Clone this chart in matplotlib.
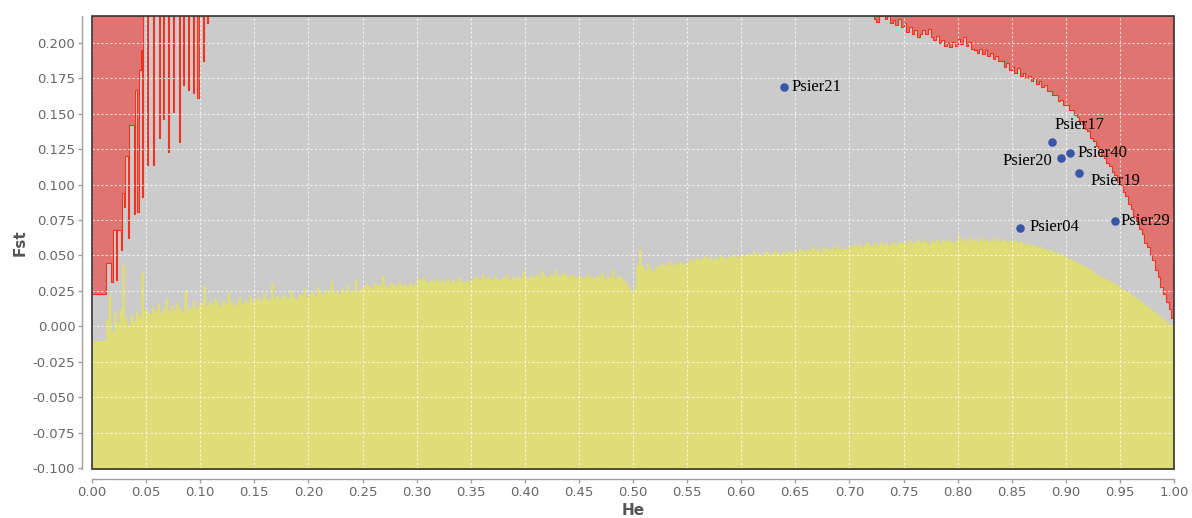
import numpy as np
import matplotlib
matplotlib.use("Agg")
import matplotlib.pyplot as plt
from matplotlib.patches import Rectangle

# lower (neutral) quantile, one value per He bin of width 0.0025
low_step = 0.0025
low_fst = [
    -0.010, -0.010, -0.010, -0.010, -0.010, 0.005, 0.022, -0.004, 0.010, 0.003, 0.012, 0.044, 0.006, 0.001, 0.009, 0.004, 0.011, 0.007, 0.038, 0.012,
    0.012, 0.009, 0.014, 0.011, 0.016, 0.010, 0.013, 0.020, 0.011, 0.015, 0.012, 0.017, 0.013, 0.010, 0.026, 0.014, 0.012, 0.018, 0.013, 0.015,
    0.017, 0.029, 0.015, 0.018, 0.016, 0.020, 0.017, 0.014, 0.019, 0.016, 0.024, 0.018, 0.015, 0.017, 0.021, 0.016, 0.019, 0.017, 0.022, 0.018,
    0.019, 0.021, 0.018, 0.024, 0.020, 0.019, 0.031, 0.020, 0.022, 0.019, 0.023, 0.021, 0.020, 0.026, 0.021, 0.019, 0.023, 0.022, 0.027, 0.021,
    0.023, 0.025, 0.022, 0.028, 0.024, 0.023, 0.026, 0.025, 0.032, 0.024, 0.026, 0.023, 0.027, 0.025, 0.029, 0.024, 0.026, 0.033, 0.025, 0.027,
    0.028, 0.030, 0.029, 0.027, 0.031, 0.029, 0.030, 0.036, 0.029, 0.028, 0.031, 0.030, 0.028, 0.032, 0.029, 0.030, 0.028, 0.031, 0.029, 0.030,
    0.034, 0.033, 0.035, 0.032, 0.031, 0.033, 0.032, 0.034, 0.031, 0.033, 0.032, 0.034, 0.031, 0.033, 0.032, 0.035, 0.032, 0.031, 0.033, 0.032,
    0.033, 0.036, 0.034, 0.033, 0.037, 0.034, 0.035, 0.033, 0.036, 0.034, 0.033, 0.035, 0.034, 0.037, 0.033, 0.035, 0.034, 0.036, 0.034, 0.039,
    0.035, 0.034, 0.036, 0.035, 0.037, 0.035, 0.039, 0.036, 0.035, 0.037, 0.036, 0.040, 0.035, 0.036, 0.038, 0.036, 0.035, 0.037, 0.036, 0.035,
    0.036, 0.034, 0.035, 0.037, 0.035, 0.034, 0.036, 0.035, 0.038, 0.034, 0.036, 0.035, 0.040, 0.034, 0.036, 0.035, 0.033, 0.031, 0.028, 0.024,
    0.027, 0.044, 0.055, 0.043, 0.040, 0.045, 0.041, 0.039, 0.043, 0.042, 0.045, 0.043, 0.044, 0.046, 0.043, 0.045, 0.044, 0.046, 0.044, 0.045,
    0.046, 0.048, 0.047, 0.049, 0.047, 0.048, 0.050, 0.048, 0.049, 0.047, 0.049, 0.048, 0.050, 0.049, 0.048, 0.050, 0.049, 0.051, 0.049, 0.050,
    0.051, 0.050, 0.052, 0.051, 0.053, 0.051, 0.052, 0.050, 0.052, 0.053, 0.051, 0.052, 0.054, 0.052, 0.051, 0.053, 0.052, 0.054, 0.052, 0.053,
    0.053, 0.055, 0.054, 0.053, 0.055, 0.054, 0.056, 0.054, 0.055, 0.053, 0.056, 0.055, 0.054, 0.056, 0.055, 0.057, 0.055, 0.056, 0.055, 0.057,
    0.056, 0.058, 0.057, 0.059, 0.056, 0.058, 0.060, 0.057, 0.058, 0.059, 0.057, 0.060, 0.058, 0.059, 0.057, 0.060, 0.059, 0.058, 0.060, 0.059,
    0.060, 0.058, 0.061, 0.059, 0.060, 0.062, 0.059, 0.061, 0.060, 0.058, 0.061, 0.060, 0.062, 0.059, 0.061, 0.060, 0.062, 0.060, 0.059, 0.061,
    0.065, 0.061, 0.062, 0.060, 0.063, 0.061, 0.062, 0.060, 0.063, 0.061, 0.062, 0.060, 0.061, 0.063, 0.061, 0.060, 0.062, 0.061, 0.060, 0.061,
    0.060, 0.061, 0.059, 0.060, 0.058, 0.059, 0.058, 0.057, 0.058, 0.056, 0.057, 0.055, 0.055, 0.054, 0.054, 0.053, 0.052, 0.052, 0.051, 0.050,
    0.049, 0.048, 0.047, 0.046, 0.045, 0.044, 0.043, 0.042, 0.041, 0.040, 0.038, 0.037, 0.036, 0.035, 0.034, 0.033, 0.032, 0.031, 0.030, 0.029,
    0.027, 0.026, 0.025, 0.024, 0.022, 0.021, 0.020, 0.018, 0.017, 0.015, 0.014, 0.012, 0.011, 0.009, 0.008, 0.006, 0.005, 0.003, 0.002, 0.001,
]

# upper (balancing) quantile, irregular breakpoints; 0.300 = above the plotted range
up_he = [
    0.0000, 0.0130, 0.0180, 0.0190, 0.0225, 0.0235, 0.0265, 0.0275, 0.0295, 0.0305,
    0.0335, 0.0345, 0.0385, 0.0395, 0.0420, 0.0430, 0.0450, 0.0465, 0.0475, 0.0505,
    0.0512, 0.0520, 0.0565, 0.0575, 0.0615, 0.0625, 0.0660, 0.0670, 0.0705, 0.0715,
    0.0750, 0.0760, 0.0800, 0.0810, 0.0840, 0.0850, 0.0885, 0.0895, 0.0930, 0.0940,
    0.0975, 0.0985, 0.1025, 0.1035, 0.1065, 0.1075,
    0.7200, 0.7225, 0.7250, 0.7275, 0.7300, 0.7325, 0.7350, 0.7375, 0.7400, 0.7425,
    0.7450, 0.7475, 0.7500, 0.7525, 0.7550, 0.7575, 0.7600, 0.7625, 0.7650, 0.7675,
    0.7700, 0.7725, 0.7750, 0.7775, 0.7800, 0.7825, 0.7850, 0.7875, 0.7900, 0.7925,
    0.7950, 0.7975, 0.8000, 0.8025, 0.8050, 0.8075, 0.8100, 0.8125, 0.8150, 0.8175,
    0.8200, 0.8225, 0.8250, 0.8275, 0.8300, 0.8325, 0.8350, 0.8375, 0.8400, 0.8425,
    0.8450, 0.8475, 0.8500, 0.8525, 0.8550, 0.8575, 0.8600, 0.8625, 0.8650, 0.8675,
    0.8700, 0.8725, 0.8750, 0.8775, 0.8800, 0.8825, 0.8850, 0.8875, 0.8900, 0.8925,
    0.8950, 0.8975, 0.9000, 0.9025, 0.9050, 0.9075, 0.9100, 0.9125, 0.9150, 0.9175,
    0.9200, 0.9225, 0.9250, 0.9275, 0.9300, 0.9325, 0.9350, 0.9375, 0.9400, 0.9425,
    0.9450, 0.9475, 0.9500, 0.9525, 0.9550, 0.9575, 0.9600, 0.9625, 0.9650, 0.9675,
    0.9700, 0.9725, 0.9750, 0.9775, 0.9800, 0.9825, 0.9850, 0.9875, 0.9900, 0.9925,
    0.9950, 0.9975, 1.0000,
]
up_fst = [
    0.023, 0.045, 0.031, 0.068, 0.033, 0.068, 0.054, 0.094, 0.084, 0.120,
    0.062, 0.142, 0.079, 0.167, 0.081, 0.181, 0.195, 0.091, 0.300, 0.140,
    0.114, 0.300, 0.114, 0.300, 0.133, 0.300, 0.146, 0.300, 0.123, 0.300,
    0.151, 0.300, 0.130, 0.300, 0.170, 0.300, 0.167, 0.300, 0.165, 0.300,
    0.161, 0.300, 0.187, 0.300, 0.214, 0.300,
    0.300, 0.217, 0.215, 0.219, 0.222, 0.217, 0.219, 0.214, 0.216, 0.213,
    0.217, 0.211, 0.214, 0.208, 0.211, 0.206, 0.209, 0.204, 0.206, 0.209,
    0.206, 0.210, 0.204, 0.202, 0.205, 0.200, 0.202, 0.198, 0.200, 0.197,
    0.201, 0.198, 0.203, 0.199, 0.204, 0.198, 0.201, 0.196, 0.195, 0.193,
    0.196, 0.192, 0.195, 0.191, 0.193, 0.189, 0.191, 0.187, 0.187, 0.183,
    0.186, 0.181, 0.183, 0.179, 0.182, 0.177, 0.179, 0.175, 0.177, 0.173,
    0.175, 0.171, 0.173, 0.169, 0.170, 0.166, 0.166, 0.163, 0.163, 0.159,
    0.160, 0.156, 0.156, 0.153, 0.153, 0.149, 0.148, 0.145, 0.143, 0.139,
    0.138, 0.133, 0.131, 0.127, 0.125, 0.121, 0.119, 0.115, 0.113, 0.109,
    0.107, 0.102, 0.100, 0.095, 0.092, 0.086, 0.083, 0.078, 0.074, 0.069,
    0.065, 0.059, 0.056, 0.050, 0.047, 0.040, 0.035, 0.028, 0.023, 0.017,
    0.012, 0.006, 0.001,
]

# loci
loci = ["Psier21", "Psier17", "Psier40", "Psier20", "Psier19", "Psier04", "Psier29"]
loci_he = [0.640, 0.887, 0.904, 0.896, 0.9125, 0.858, 0.9455]
loci_fst = [0.169, 0.130, 0.1226, 0.1186, 0.1085, 0.0692, 0.0744]
# label offsets in pixels (dx, dy) and alignment
label_pos = [(7, 0, "left"), (3, 17, "left"), (7, 0, "left"), (-9, -3, "right"),
             (11, -8, "left"), (9, 1, "left"), (5, 0, "left")]

GRAY = "#cbcbcb"
RED_FILL = "#e07470"
RED_LINE = "#f2321f"
YELLOW = "#dfdd77"
BLUE = "#3a56a8"

fig = plt.figure(figsize=(11.92, 5.18), dpi=100)
ax = fig.add_axes([92 / 1192, 49 / 518, 1082 / 1192, 453 / 518])
ax.set_facecolor(GRAY)

he_low = np.append(np.arange(len(low_fst)) * low_step, 1.0)
fst_low = np.append(low_fst, low_fst[-1])
ax.fill_between(he_low, -0.2, fst_low, step="post", color=YELLOW, lw=0, zorder=1)

ax.fill_between(up_he, up_fst, 0.4, step="post", color=RED_FILL, lw=0, zorder=1)
ax.step(up_he, up_fst, where="post", color=RED_LINE, lw=0.8, zorder=2)

ax.set_xlim(0, 1)
ax.set_ylim(-0.1007, 0.219)
ax.set_xticks(np.round(np.arange(0, 1.0001, 0.05), 2) + 0.0)
ax.set_yticks(np.round(np.arange(-0.1, 0.2001, 0.025), 3) + 0.0)
ax.xaxis.set_major_formatter(matplotlib.ticker.FuncFormatter(
    lambda v, p: "%.2f" % (v + 0.0) if abs(v) > 1e-9 else "0.00"))
ax.yaxis.set_major_formatter(matplotlib.ticker.FuncFormatter(
    lambda v, p: "%.3f" % v if abs(v) > 1e-9 else "0.000"))

ax.set_axisbelow(False)
ax.grid(True, color="white", ls=(0, (2, 2)), lw=0.8, alpha=0.75)

for s in ["top", "right"]:
    ax.spines[s].set_visible(False)
for s in ["left", "bottom"]:
    ax.spines[s].set_position(("outward", 7))
    ax.spines[s].set_color("#a0a0a0")
    ax.spines[s].set_linewidth(1.0)
ax.tick_params(colors="#a0a0a0", length=3, width=1, labelcolor="#666666",
               labelsize=9.5, pad=2)
ax.add_patch(Rectangle((0, 0), 1, 1, transform=ax.transAxes, fill=False,
                       ec="#333333", lw=1.2, zorder=6, clip_on=False))

ax.scatter(loci_he, loci_fst, s=38, color=BLUE, zorder=5, lw=0)
for name, x, y, (dx, dy, ha) in zip(loci, loci_he, loci_fst, label_pos):
    ax.annotate(name, (x, y), xytext=(dx, dy), textcoords="offset pixels",
                ha=ha, va="center", fontsize=12, family="Liberation Serif",
                color="black", zorder=7)

ax.set_xlabel("He", fontsize=11, fontweight="bold", color="#555555", labelpad=3)
ax.set_ylabel("Fst", fontsize=11, fontweight="bold", color="#555555", labelpad=4)

fig.savefig("out.png", dpi=100)
